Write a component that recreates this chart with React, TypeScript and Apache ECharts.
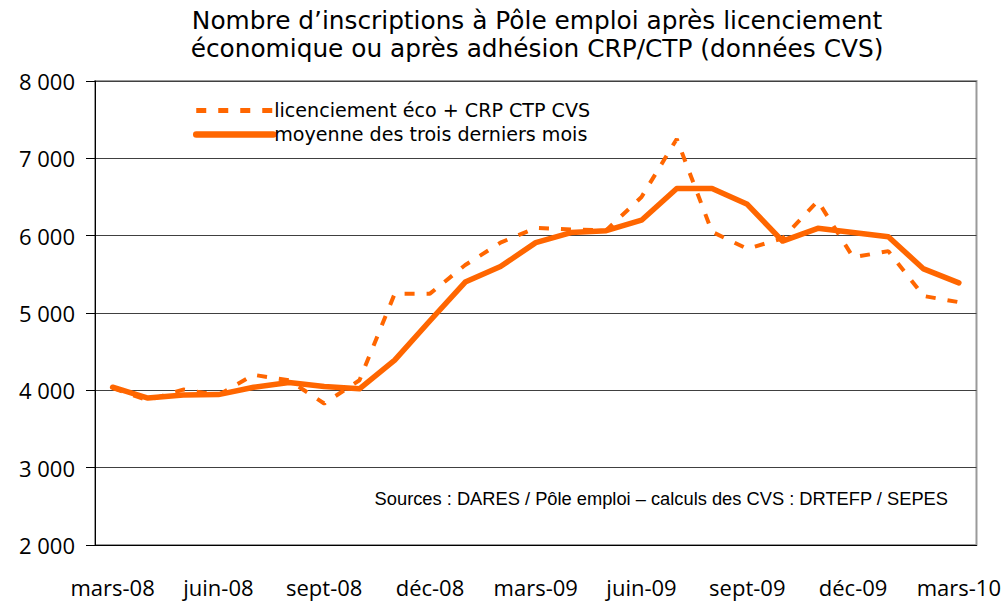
import React, { useEffect, useRef } from "react";
import * as echarts from "echarts";

const categories = [
  "mars-08", "avr-08", "mai-08", "juin-08", "juil-08", "août-08", "sept-08", "oct-08", "nov-08", "déc-08",
  "janv-09", "févr-09", "mars-09", "avr-09", "mai-09", "juin-09", "juil-09", "août-09", "sept-09", "oct-09",
  "nov-09", "déc-09", "janv-10", "févr-10", "mars-10",
];

const monthlyValues = [
  4030, 3870, 4010, 3940, 4200, 4130, 3830, 4130, 5250, 5250,
  5620, 5910, 6100, 6080, 6070, 6500, 7250, 6050, 5830, 5965,
  6450, 5720, 5800, 5220, 5140,
];

const averageValues = [
  4040, 3900, 3940, 3945, 4040, 4100, 4050, 4020, 4390, 4900,
  5400, 5600, 5910, 6040, 6065, 6200, 6610, 6610, 6405, 5930,
  6095, 6040, 5985, 5570, 5390,
];

const seriesNames = ["licenciement éco + CRP CTP CVS", "moyenne des trois derniers mois"];
const titleLines = [
  "Nombre d\u2019inscriptions à Pôle emploi après licenciement",
  "économique ou après adhésion CRP/CTP (données CVS)",
];
const sourceText = "Sources : DARES / Pôle emploi \u2013 calculs des CVS : DRTEFP / SEPES";

const ORANGE = "#FF6600";
const FONT = "Open Sans";
const TFONT = "DejaVu Sans";
const DASH = [10, 12];

export default function App() {
  const ref = useRef<HTMLDivElement>(null);
  useEffect(() => {
    if (!ref.current) return;
    const chart = echarts.init(ref.current, null, { renderer: "svg" });
    chart.setOption({
      animation: false,
      backgroundColor: "#ffffff",
      textStyle: { fontFamily: FONT },
      grid: {
        left: 95, right: 27, top: 81, bottom: 56,
        show: true, borderColor: "#9a9a9a", borderWidth: 2,
      },
      graphic: [
        {
          type: "text", x: 537, y: 20.5,
          style: { text: titleLines[0], fontSize: 24.8, fontFamily: TFONT, fill: "#000", textAlign: "center", textVerticalAlign: "middle" },
        },
        {
          type: "text", x: 537, y: 48,
          style: { text: titleLines[1], fontSize: 24.8, fontFamily: TFONT, fill: "#000", textAlign: "center", textVerticalAlign: "middle" },
        },
        {
          type: "text", x: 948, y: 498,
          style: { text: sourceText, fontSize: 18.3, fontFamily: "Liberation Sans", fill: "#000", textAlign: "right", textVerticalAlign: "middle" },
        },
      ],
      legend: {
        orient: "vertical",
        left: 188, top: 96,
        itemWidth: 77, itemHeight: 14, itemGap: 5,
        itemStyle: { opacity: 0 },
        textStyle: { fontSize: 19.1, color: "#000", fontFamily: TFONT, padding: [0, 0, 0, -4] },
        data: [
          { name: seriesNames[0], lineStyle: { color: ORANGE, width: 5, type: DASH, cap: "butt" } },
          { name: seriesNames[1], lineStyle: { color: ORANGE, width: 6.5, type: "solid", cap: "round" } },
        ],
      },
      xAxis: {
        type: "category",
        data: categories,
        boundaryGap: true,
        axisLine: { lineStyle: { color: "#000", width: 1 } },
        axisTick: { interval: 2, length: 8, lineStyle: { color: "#000" } },
        axisLabel: { interval: 2, fontSize: 22, color: "#000", margin: 31, fontFamily: FONT },
        splitLine: { show: false },
      },
      yAxis: {
        type: "value",
        min: 2000, max: 8000, interval: 1000,
        axisLine: { show: true, lineStyle: { color: "#000", width: 1 } },
        axisTick: { show: true, length: 9, lineStyle: { color: "#000" } },
        axisLabel: {
          fontSize: 22, color: "#000", margin: 20, fontFamily: FONT,
          formatter: (v: number) => String(v).replace(/\B(?=(\d{3})+(?!\d))/g, " "),
        },
        splitLine: { show: true, lineStyle: { color: "#404040", width: 1 } },
      },
      series: [
        {
          name: seriesNames[0], type: "line", data: monthlyValues,
          symbol: "none", color: ORANGE,
          lineStyle: { color: ORANGE, width: 4, type: DASH, cap: "butt" },
        },
        {
          name: seriesNames[1], type: "line", data: averageValues,
          symbol: "none", color: ORANGE,
          lineStyle: { color: ORANGE, width: 5.5, cap: "round", join: "round" },
        },
      ],
    });
    return () => chart.dispose();
  }, []);
  return <div ref={ref} style={{ position: "fixed", left: 0, top: 0, width: 1004, height: 601 }} />;
}
